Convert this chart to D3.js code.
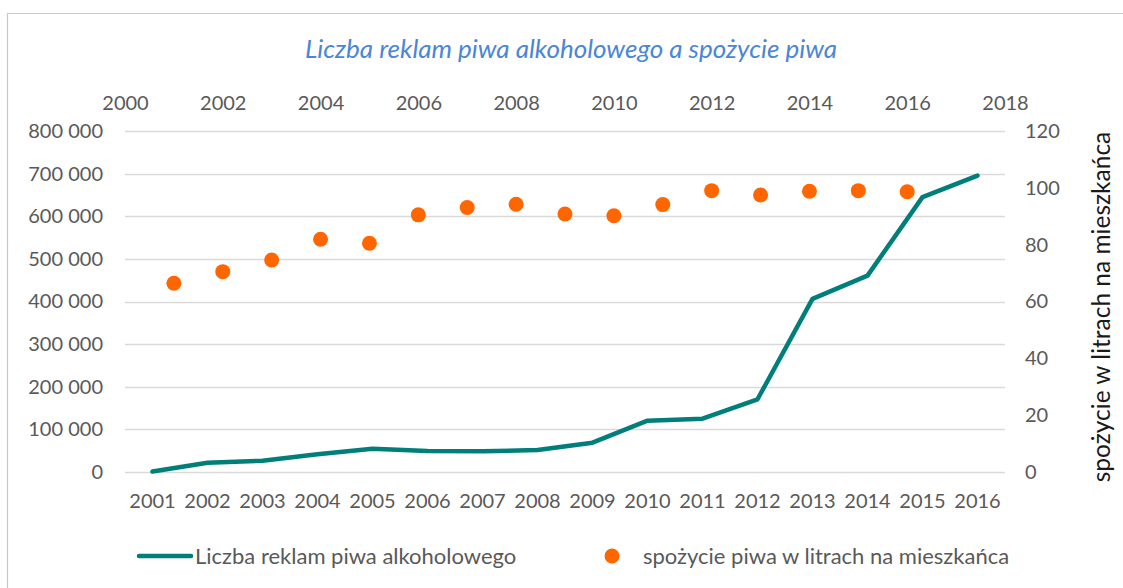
<!DOCTYPE html>
<html>
<head>
<meta charset="utf-8">
<script src="https://cdn.jsdelivr.net/npm/d3@7"></script>
<style>
  body { margin: 0; background: #fff; }
  svg { display: block; font-family: Lato, "Open Sans", sans-serif; }
  .tick text { fill: #595959; font-size: 20px; }
  .grid line { stroke: #d9d9d9; stroke-width: 1.3; }
</style>
</head>
<body>
<svg id="chart" width="1123" height="588"></svg>
<script>
// line series: ads count, categorical bottom axis
var years = ["2001","2002","2003","2004","2005","2006","2007","2008",
             "2009","2010","2011","2012","2013","2014","2015","2016"];
var adsCount = [1000, 21800, 26500, 41500, 54700, 49300, 48500, 51600,
                68800, 120400, 125100, 170600, 406000, 460800, 644800, 695500];

// scatter series: beer consumption, numeric top axis
var beerYears = [2001,2002,2003,2004,2005,2006,2007,2008,
                 2009,2010,2011,2012,2013,2014,2015,2016];
var beerLitres = [66.4, 70.5, 74.6, 81.9, 80.5, 90.5, 93.1, 94.2,
                  90.8, 90.2, 94.1, 99.0, 97.5, 98.8, 99.0, 98.6];

var leftTicks = [0,100000,200000,300000,400000,500000,600000,700000,800000];
var rightTicks = [0,20,40,60,80,100,120];
var topTicks = [2000,2002,2004,2006,2008,2010,2012,2014,2016,2018];

var svg = d3.select("#chart");
var plotL = 125, plotR = 1005, plotT = 131, plotB = 472;

// chart border (only top and left show inside the picture)
svg.append("path")
   .attr("d", "M7.5,600 L7.5,13.5 L1130,13.5")
   .attr("fill", "none")
   .attr("stroke", "#c8c8c8")
   .attr("stroke-width", 1.2);

var yLeft = d3.scaleLinear().domain([0, 800000]).range([plotB, plotT]);
var yRight = d3.scaleLinear().domain([0, 120]).range([plotB, plotT]);
var xBand = d3.scaleBand().domain(years).range([plotL, plotR]);
var xTop = d3.scaleLinear().domain([2000, 2018]).range([plotL, plotR]);

var fmt = function(d){
  return d3.format(",")(d).replace(/,/g, " ");
}

// gridlines
svg.append("g")
   .attr("class", "grid")
   .selectAll("line")
   .data(leftTicks)
   .enter()
   .append("line")
   .attr("x1", plotL)
   .attr("x2", plotR)
   .attr("y1", function(d){ return Math.round(yLeft(d)) + 0.5 })
   .attr("y2", function(d){ return Math.round(yLeft(d)) + 0.5 });

// axes
var gl = svg.append("g")
   .attr("transform", "translate(" + (plotL - 22) + ",0)")
   .call(d3.axisLeft(yLeft).tickValues(leftTicks).tickFormat(fmt).tickSize(0).tickPadding(0));

var gr = svg.append("g")
   .attr("transform", "translate(" + (plotR + 20) + ",0)")
   .call(d3.axisRight(yRight).tickValues(rightTicks).tickSize(0).tickPadding(0));

var gb = svg.append("g")
   .attr("transform", "translate(0," + (plotB + 21) + ")")
   .call(d3.axisBottom(xBand).tickSize(0).tickPadding(0));

var gt = svg.append("g")
   .attr("transform", "translate(0," + (plotT - 21) + ")")
   .call(d3.axisTop(xTop).tickValues(topTicks).tickFormat(d3.format("d")).tickSize(0).tickPadding(0));

[gl, gr, gb, gt].forEach(function(g){
  g.select(".domain").remove();
  g.attr("font-family", null).attr("font-size", null);
});
gb.selectAll("text").attr("dy", "0.75em");
gt.selectAll("text").attr("dy", "0");

// line
var line = d3.line()
   .x(function(d, i){ return xBand(years[i]) + xBand.bandwidth() / 2 })
   .y(function(d){ return yLeft(d) });

svg.append("path")
   .datum(adsCount)
   .attr("d", line)
   .attr("fill", "none")
   .attr("stroke", "#007e7a")
   .attr("stroke-width", 4.5)
   .attr("stroke-linejoin", "round")
   .attr("stroke-linecap", "round");

// dots
svg.append("g")
   .selectAll("circle")
   .data(beerLitres)
   .enter()
   .append("circle")
   .attr("cx", function(d, i){ return xTop(beerYears[i]) })
   .attr("cy", function(d){ return yRight(d) })
   .attr("r", 7.5)
   .attr("fill", "#ff6600");

// title
svg.append("text")
   .attr("x", 571)
   .attr("y", 58)
   .attr("text-anchor", "middle")
   .attr("font-style", "italic")
   .attr("font-size", 26)
   .attr("fill", "#4a86d8")
   .text("Liczba reklam piwa alkoholowego a spożycie piwa");

// right axis title
svg.append("text")
   .attr("transform", "translate(1110,307) rotate(-90)")
   .attr("text-anchor", "middle")
   .attr("font-size", 24.5)
   .attr("fill", "#1a1a1a")
   .text("spożycie w litrach na mieszkańca");

// legend
var legend = svg.append("g");
legend.append("line")
   .attr("x1", 139).attr("x2", 191)
   .attr("y1", 556).attr("y2", 556)
   .attr("stroke", "#007e7a")
   .attr("stroke-width", 4.5)
   .attr("stroke-linecap", "round");
legend.append("text")
   .attr("x", 195).attr("y", 556)
   .attr("dy", "0.35em")
   .attr("font-size", 22)
   .attr("fill", "#595959")
   .text("Liczba reklam piwa alkoholowego");
legend.append("circle")
   .attr("cx", 612).attr("cy", 556)
   .attr("r", 7.5)
   .attr("fill", "#ff6600");
legend.append("text")
   .attr("x", 643).attr("y", 556)
   .attr("dy", "0.35em")
   .attr("font-size", 22)
   .attr("fill", "#595959")
   .text("spożycie piwa w litrach na mieszkańca");
</script>
</body>
</html>
